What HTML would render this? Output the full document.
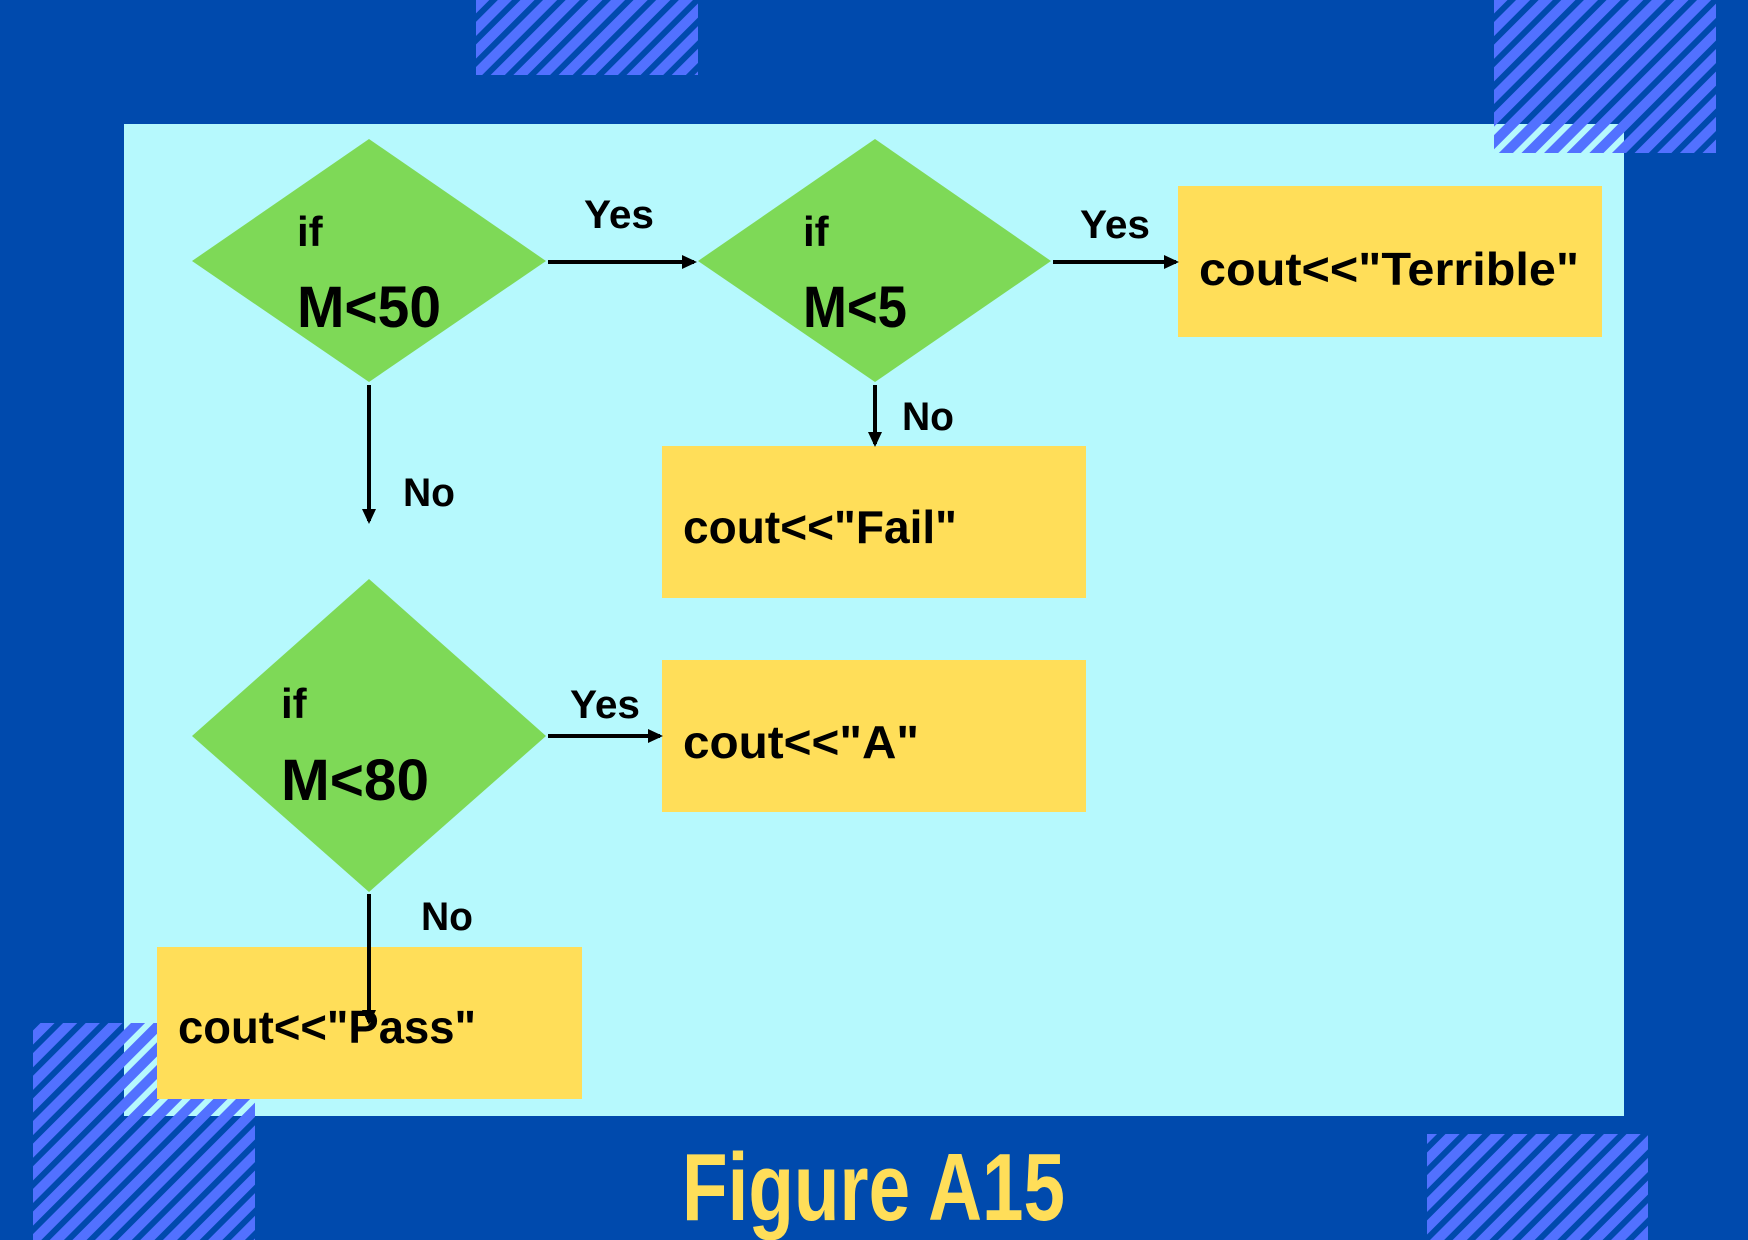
<!DOCTYPE html>
<html><head><meta charset="utf-8"><style>
html,body{margin:0;padding:0;background:#004AAD;}
svg{display:block}
text{font-family:"Liberation Sans",sans-serif;font-weight:bold;}
</style></head><body>
<svg width="1748" height="1240" viewBox="0 0 1748 1240" xmlns="http://www.w3.org/2000/svg">
<defs>
<pattern id="h" patternUnits="userSpaceOnUse" width="16" height="16" patternTransform="rotate(45)">
<rect x="0" y="0" width="10" height="16" fill="#5271FF"/>
</pattern>
<marker id="a" markerWidth="16" markerHeight="16" refX="12" refY="8" orient="auto" markerUnits="userSpaceOnUse">
<path d="M0,1 L15,8 L0,15 Z" fill="#000"/>
</marker>
</defs>
<rect width="1748" height="1240" fill="#004AAD"/>
<rect x="124" y="124" width="1500" height="992" fill="#B6F9FD"/>
<rect x="476" y="0" width="222" height="75" fill="url(#h)"/>
<rect x="1494" y="0" width="222" height="153" fill="url(#h)"/>
<rect x="33" y="1023" width="222" height="217" fill="url(#h)"/>
<rect x="1427" y="1134" width="221" height="106" fill="url(#h)"/>

<polygon points="192,261 369,139 546,261 369,382" fill="#7ED957"/>
<polygon points="698,261 875,139 1051,261 875,382" fill="#7ED957"/>
<polygon points="192,736 369,579 546,736 369,892" fill="#7ED957"/>

<rect x="1178" y="186" width="424" height="151" fill="#FFDE59"/>
<rect x="662" y="446" width="424" height="152" fill="#FFDE59"/>
<rect x="662" y="660" width="424" height="152" fill="#FFDE59"/>
<rect x="157" y="947" width="425" height="152" fill="#FFDE59"/>

<g stroke="#000" stroke-width="4" fill="none">
<line x1="548" y1="262" x2="694" y2="262" marker-end="url(#a)"/>
<line x1="1053" y1="262" x2="1176" y2="262" marker-end="url(#a)"/>
<line x1="369" y1="385" x2="369" y2="521" marker-end="url(#a)"/>
<line x1="875" y1="385" x2="875" y2="444" marker-end="url(#a)"/>
<line x1="548" y1="736" x2="660" y2="736" marker-end="url(#a)"/>
<line x1="369" y1="894" x2="369" y2="1022" marker-end="url(#a)"/>
</g>

<g fill="#000">
<text x="297" y="246" font-size="42">if</text>
<text x="297" y="327" font-size="58" textLength="144" lengthAdjust="spacingAndGlyphs">M&lt;50</text>
<text x="803" y="246" font-size="42">if</text>
<text x="803" y="327" font-size="58" textLength="104" lengthAdjust="spacingAndGlyphs">M&lt;5</text>
<text x="281" y="718" font-size="42">if</text>
<text x="281" y="800" font-size="58" textLength="148" lengthAdjust="spacingAndGlyphs">M&lt;80</text>

<text x="584" y="228" font-size="40" textLength="70" lengthAdjust="spacingAndGlyphs">Yes</text>
<text x="1080" y="238" font-size="40" textLength="70" lengthAdjust="spacingAndGlyphs">Yes</text>
<text x="570" y="718" font-size="40" textLength="70" lengthAdjust="spacingAndGlyphs">Yes</text>
<text x="403" y="506" font-size="40" textLength="52" lengthAdjust="spacingAndGlyphs">No</text>
<text x="902" y="430" font-size="40" textLength="52" lengthAdjust="spacingAndGlyphs">No</text>
<text x="421" y="930" font-size="40" textLength="52" lengthAdjust="spacingAndGlyphs">No</text>

<text x="1199" y="285" font-size="46" textLength="380" lengthAdjust="spacingAndGlyphs">cout&lt;&lt;"Terrible"</text>
<text x="683" y="543" font-size="46" textLength="274" lengthAdjust="spacingAndGlyphs">cout&lt;&lt;"Fail"</text>
<text x="683" y="758" font-size="46" textLength="236" lengthAdjust="spacingAndGlyphs">cout&lt;&lt;"A"</text>
<text x="178" y="1043" font-size="46" textLength="298" lengthAdjust="spacingAndGlyphs">cout&lt;&lt;"Pass"</text>
</g>
<text x="682" y="1220" font-size="96" fill="#FFDE59" textLength="383" lengthAdjust="spacingAndGlyphs">Figure A15</text>
</svg>
</body></html>
